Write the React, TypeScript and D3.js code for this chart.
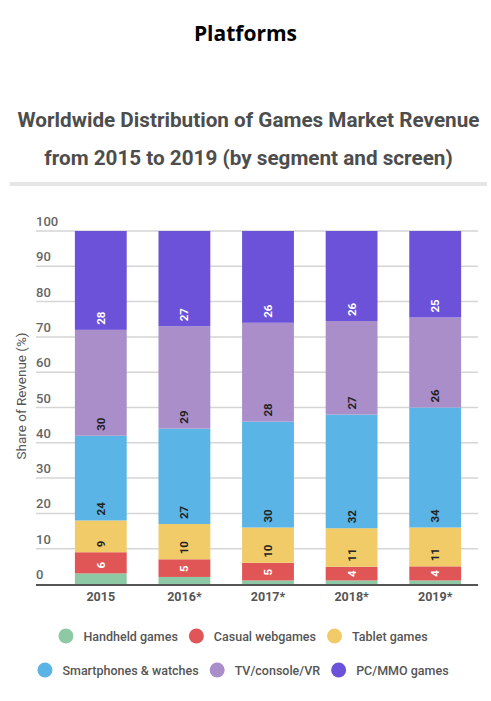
import React from "react";
import * as d3 from "d3";

const years = ["2015", "2016*", "2017*", "2018*", "2019*"];
const seriesNames = [
  "Handheld games",
  "Casual webgames",
  "Tablet games",
  "Smartphones & watches",
  "TV/console/VR",
  "PC/MMO games",
];
const handheld = [3, 2, 1, 1, 1];
const casual = [6, 5, 5, 3.9, 4];
const tablet = [9, 10, 10, 10.9, 11];
const smartphones = [24, 27, 30, 32.2, 34];
const tvConsole = [30, 29, 28, 26.5, 25.5];
const pcMmo = [28, 27, 26, 25.5, 24.5];
const yTicks = [0, 10, 20, 30, 40, 50, 60, 70, 80, 90, 100];

const colors = ["#8ec9a5", "#e05656", "#f1cb68", "#5ab4e5", "#a98ec9", "#6b52d9"];
const labelColors = [null, "#ffffff", "#222222", "#222222", "#222222", "#ffffff"];

const W = 491;
const H = 701;

function measure(text: string, font: string) {
  if (typeof document === "undefined") return text.length * 7;
  const c = document.createElement("canvas");
  const ctx = c.getContext("2d");
  if (!ctx) return text.length * 7;
  ctx.font = font;
  return ctx.measureText(text).width;
}

export default function App() {
  const series = [handheld, casual, tablet, smartphones, tvConsole, pcMmo];
  const rows = years.map((y, i) => {
    const r: any = { year: y };
    seriesNames.forEach((n, k) => (r[n] = series[k][i]));
    return r;
  });
  const stack = d3.stack<any>().keys(seriesNames)(rows);

  const x = d3
    .scaleBand<string>()
    .domain(years)
    .range([59, 477])
    .paddingInner(0.38)
    .paddingOuter(0.19);
  const y = d3.scaleLinear().domain([0, 100]).range([584, 231]);

  const legendFont = "500 12.5px Roboto";
  const legendRows = [seriesNames.slice(0, 3), seriesNames.slice(3)];
  const legendY = [636, 670];

  return (
    <svg
      width={W}
      height={H}
      style={{ position: "absolute", left: 0, top: 0, background: "#fff" }}
      fontFamily="Roboto, sans-serif"
    >
      <text
        x={W / 2}
        y={41}
        textAnchor="middle"
        fontFamily="'Open Sans', sans-serif"
        fontWeight={700}
        fontSize={21}
        fill="#000"
      >
        Platforms
      </text>
      <text x={W / 2 + 3} y={127} textAnchor="middle" fontWeight={700} fontSize={20.7} fill="#4d4d4d">
        Worldwide Distribution of Games Market Revenue
      </text>
      <text x={W / 2 + 3} y={165} textAnchor="middle" fontWeight={700} fontSize={20.7} fill="#4d4d4d">
        from 2015 to 2019 (by segment and screen)
      </text>
      <rect x={10} y={182} width={477} height={4} fill="#e6e6e6" />

      {yTicks.map((t) => (
        <g key={t}>
          {t > 0 && (
            <line x1={36} x2={478} y1={y(t)} y2={y(t)} stroke="#d5d5d5" strokeWidth={1.5} />
          )}
          <text x={36} y={y(t) - 5} fontSize={13} fontWeight={500} fill="#666">
            {t}
          </text>
        </g>
      ))}

      <text
        transform={`translate(26, 396) rotate(-90)`}
        textAnchor="middle"
        fontSize={13.5}
        fill="#555"
      >
        Share of Revenue (%)
      </text>

      {stack.map((s, k) => (
        <g key={s.key}>
          {s.map((d, i) => {
            const bx = x(years[i])!;
            const y0 = y(d[0]);
            const y1 = y(d[1]);
            return (
              <rect key={i} x={bx} y={y1} width={x.bandwidth()} height={y0 - y1} fill={colors[k]} />
            );
          })}
        </g>
      ))}

      {stack.map((s, k) =>
        labelColors[k]
          ? s.map((d, i) => {
              const val = Math.round(d[1] - d[0]);
              const label = String(val);
              const cx = x(years[i])! + x.bandwidth() / 2;
              const y0 = y(d[0]);
              const y1 = y(d[1]);
              const tw = measure(label, "700 11.5px Roboto");
              const segH = y0 - y1;
              let ty: number;
              let anchor: string;
              if (segH < tw + 10) {
                ty = (y0 + y1) / 2;
                anchor = "middle";
              } else {
                ty = y0 - 5;
                anchor = "start";
              }
              return (
                <text
                  key={`${k}-${i}`}
                  transform={`translate(${cx}, ${ty}) rotate(-90)`}
                  textAnchor={anchor}
                  dominantBaseline="central"
                  fontSize={11.5}
                  fontWeight={700}
                  fill={labelColors[k]!}
                >
                  {label}
                </text>
              );
            })
          : null
      )}

      <line x1={36} x2={478} y1={585} y2={585} stroke="#555" strokeWidth={2} />

      {years.map((yr) => (
        <text
          key={yr}
          x={x(yr)! + x.bandwidth() / 2}
          y={601}
          textAnchor="middle"
          fontSize={12.5}
          fontWeight={700}
          fill="#555"
        >
          {yr}
        </text>
      ))}

      {legendRows.map((row, ri) => {
        const widths = row.map((n) => 25 + measure(n, legendFont));
        const gap = 11;
        const total = widths.reduce((a, b) => a + b, 0) + gap * (row.length - 1);
        let cur = 243 - total / 2;
        return (
          <g key={ri}>
            {row.map((n, j) => {
              const idx = seriesNames.indexOf(n);
              const sx = cur;
              cur += widths[j] + gap;
              return (
                <g key={n}>
                  <circle cx={sx + 7.5} cy={legendY[ri]} r={7.5} fill={colors[idx]} />
                  <text
                    x={sx + 25}
                    y={legendY[ri]}
                    dominantBaseline="central"
                    fontSize={12.5}
                    fontWeight={500}
                    fill="#555"
                  >
                    {n}
                  </text>
                </g>
              );
            })}
          </g>
        );
      })}
    </svg>
  );
}
